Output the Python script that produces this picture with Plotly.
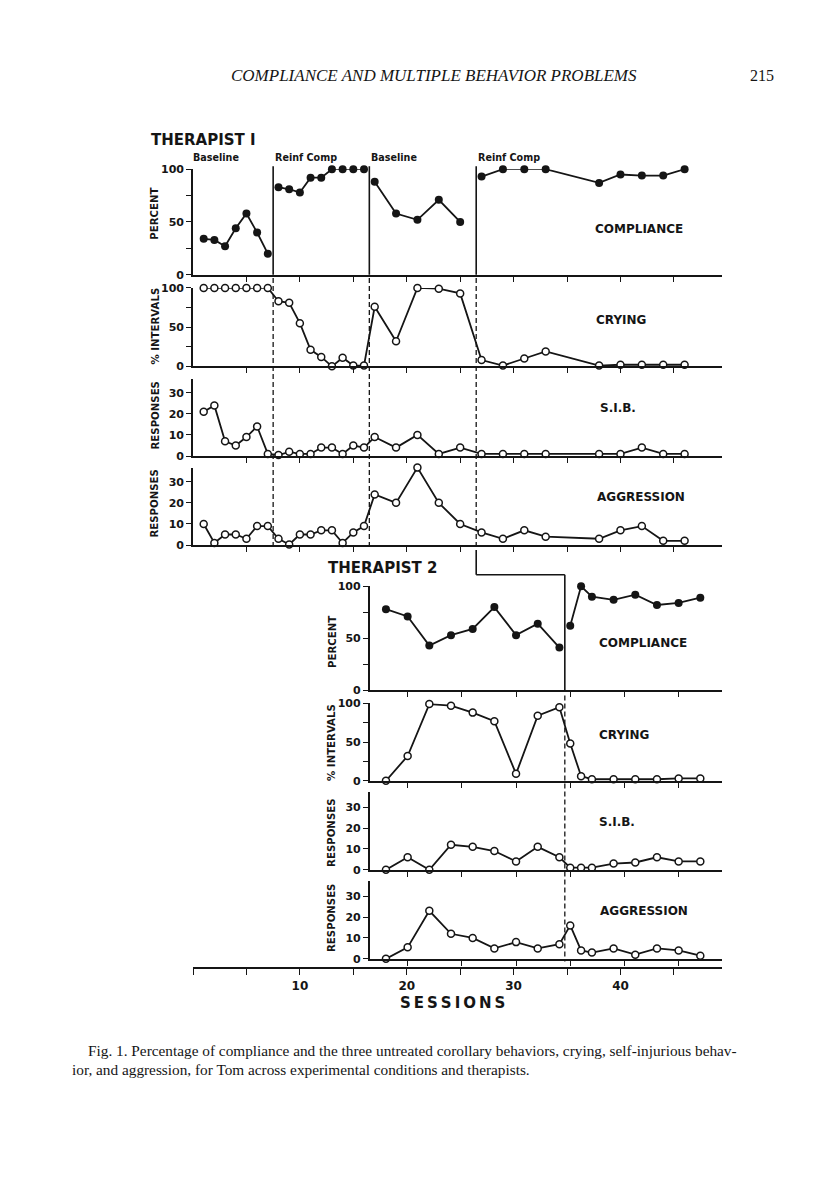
import plotly.graph_objects as go

W, H = 816, 1195

# ---------------- data ----------------
T1_SESSIONS = [1, 2, 3, 4, 5, 6, 7,
               8, 9, 10, 11, 12, 13, 14, 15, 16,
               17, 19, 21, 23, 25,
               27, 29, 31, 33, 38, 40, 42, 44, 46]
T1_COMPLIANCE = [34, 33, 27, 44, 58, 40, 20,
                 83, 81, 78, 92, 92, 100, 100, 100, 100,
                 88, 58, 52, 71, 50,
                 93, 100, 100, 100, 87, 95, 94, 94, 100]
T1_CRYING = [100, 100, 100, 100, 100, 100, 100,
             83, 81, 55, 21, 12, 0, 11, 1, 1,
             76, 32, 100, 99, 93,
             8, 1, 10, 19, 1, 2, 2, 2, 2]
T1_SIB = [21, 24, 7, 5, 9, 14, 1,
          0.5, 2, 1, 1, 4, 4, 1, 5, 4,
          9, 4, 10, 1, 4,
          1, 1, 1, 1, 1, 1, 4, 1, 1]
T1_AGGRESSION = [10, 1, 5, 5, 3, 9, 9,
                 3, 0.3, 5, 5, 7, 7, 1, 6, 9,
                 24, 20, 36.7, 20, 10,
                 6, 3, 7, 4, 3, 7, 9, 2, 2]
T1_PHASE_BREAKS = [7.5, 16.5, 26.5]
T1_PHASE_STARTS = [0, 7.5, 16.5, 26.5]
T1_PHASE_LABELS = ["Baseline", "Reinf Comp", "Baseline", "Reinf Comp"]

T2_SESSIONS = [18, 20, 22, 24, 26, 28, 30, 32, 34,
               35, 36, 37, 39, 41, 43, 45, 47]
T2_COMPLIANCE = [78, 71, 43, 53, 59, 80, 53, 64, 41,
                 62, 100, 90, 87, 92, 82, 84, 89]
T2_CRYING = [0, 32, 99, 97, 88, 77, 9, 84, 95,
             48, 6, 2, 2, 2, 2, 3, 3]
T2_SIB = [0, 6, 0, 12, 11, 9, 4, 11, 6,
          1, 1, 1, 3, 3.5, 6, 4, 4]
T2_AGGRESSION = [0, 5.5, 23, 12, 10, 5, 8, 5, 7,
                 16, 4, 3, 5, 2, 5, 4, 1.5]
T2_PHASE_BREAK = 34.5

SESSION_TICKS = [0, 5, 10, 15, 20, 25, 30, 35, 40, 45]
SESSION_LABELS = ["", "", "10", "", "20", "", "30", "", "40", ""]
PCT_TICKS = [0, 25, 50, 75, 100]
PCT_LABELS = ["0", "", "50", "", "100"]
RESP_TICKS = [0, 10, 20, 30]
RESP_LABELS = ["0", "10", "20", "30"]

# ---------------- helpers ----------------
def px(x):
    return x / W

def py(y):
    return 1 - y / H

T1_RANGE = [0, 49.5]
T1_DOM = [px(193), px(722)]
T2_RANGE = [16.5, 49.0]
T2_DOM = [px(369.7), px(722)]

def to_paper(s, rng, dom):
    return dom[0] + (s - rng[0]) / (rng[1] - rng[0]) * (dom[1] - dom[0])

def split_phases(sess, vals, breaks):
    xs, ys = [], []
    for i, (s, v) in enumerate(zip(sess, vals)):
        if i > 0 and any(sess[i - 1] < b < s for b in breaks):
            xs.append(None)
            ys.append(None)
        xs.append(s)
        ys.append(v)
    return xs, ys

INK = "#151515"
SANS = "DejaVu Sans"
SERIF = "Liberation Serif"

fig = go.Figure()

def filled(x, y, n):
    fig.add_trace(go.Scatter(
        x=x, y=y, xaxis=f"x{n}", yaxis=f"y{n}", mode="lines+markers",
        line=dict(color=INK, width=1.8),
        marker=dict(symbol="circle", size=8, color=INK),
        cliponaxis=False, showlegend=False, hoverinfo="skip", connectgaps=False))

def opened(x, y, n):
    fig.add_trace(go.Scatter(
        x=x, y=y, xaxis=f"x{n}", yaxis=f"y{n}", mode="lines+markers",
        line=dict(color=INK, width=1.8),
        marker=dict(symbol="circle", size=7, color="white",
                    line=dict(color=INK, width=1.5)),
        cliponaxis=False, showlegend=False, hoverinfo="skip"))

cx, cy = split_phases(T1_SESSIONS, T1_COMPLIANCE, T1_PHASE_BREAKS)
filled(cx, cy, 1)
opened(T1_SESSIONS, T1_CRYING, 2)
opened(T1_SESSIONS, T1_SIB, 3)
opened(T1_SESSIONS, T1_AGGRESSION, 4)
cx2, cy2 = split_phases(T2_SESSIONS, T2_COMPLIANCE, [T2_PHASE_BREAK])
filled(cx2, cy2, 5)
opened(T2_SESSIONS, T2_CRYING, 6)
opened(T2_SESSIONS, T2_SIB, 7)
opened(T2_SESSIONS, T2_AGGRESSION, 8)
# invisible trace so the shared sessions axis is drawn
fig.add_trace(go.Scatter(x=T1_RANGE, y=[0, 0], xaxis="x9", yaxis="y9",
                         mode="lines", line=dict(width=0), showlegend=False,
                         hoverinfo="skip"))

tickfont = dict(family=SANS, size=11, color=INK, weight="bold")

def xaxis(dom, rng, anchor, tickvals, labels=None):
    d = dict(domain=dom, range=rng, anchor=anchor, showline=True,
             linecolor=INK, linewidth=1.6, ticks="outside", ticklen=5,
             tickwidth=1.3, tickcolor=INK, tickvals=tickvals,
             showgrid=False, zeroline=False, fixedrange=True)
    if labels is None:
        d["showticklabels"] = False
    else:
        d["ticktext"] = labels
        d["tickfont"] = dict(family=SANS, size=12, color=INK, weight="bold")
    return d

def yaxis(dom, rng, anchor, tickvals, ticktext):
    return dict(domain=dom, range=rng, anchor=anchor, showline=True,
                linecolor=INK, linewidth=1.6, ticks="outside", ticklen=5,
                tickwidth=1.3, tickcolor=INK, tickvals=tickvals,
                ticktext=ticktext, tickfont=tickfont, showgrid=False,
                zeroline=False, fixedrange=True)

T1_XTICKS = SESSION_TICKS[1:]
T2_XTICKS = [t for t in SESSION_TICKS if t >= 20]

y_doms = {
    1: ([py(271.7), py(165)], [0, 100], PCT_TICKS, PCT_LABELS),
    2: ([py(364.3), py(285)], [0, 100], PCT_TICKS, PCT_LABELS),
    3: ([py(455), py(376.7)], [0, 36.7], RESP_TICKS, RESP_LABELS),
    4: ([py(545), py(466.7)], [0, 36.7], RESP_TICKS, RESP_LABELS),
    5: ([py(691.7), py(586.7)], [0, 100], PCT_TICKS, PCT_LABELS),
    6: ([py(783.3), py(705)], [0, 100], PCT_TICKS, PCT_LABELS),
    7: ([py(873.3), py(795)], [0, 37.1], RESP_TICKS, RESP_LABELS),
    8: ([py(963.3), py(885)], [0, 37.1], RESP_TICKS, RESP_LABELS),
}

layout = dict(width=W, height=H, margin=dict(l=0, r=0, t=0, b=0),
              paper_bgcolor="white", plot_bgcolor="rgba(0,0,0,0)",
              showlegend=False)
for n, (dom, rng, tv, tt) in y_doms.items():
    xd, xr, xt = (T1_DOM, T1_RANGE, T1_XTICKS) if n <= 4 else (T2_DOM, T2_RANGE, T2_XTICKS)
    layout[f"xaxis{n}"] = xaxis(xd, xr, f"y{n}", xt)
    layout[f"yaxis{n}"] = yaxis(dom, rng, f"x{n}", tv, tt)

layout["xaxis9"] = xaxis(T1_DOM, T1_RANGE, "y9", SESSION_TICKS, SESSION_LABELS)
layout["xaxis9"]["ticklen"] = 6
layout["yaxis9"] = dict(domain=[py(972), py(971)], range=[0, 1], anchor="x9",
                        visible=False, fixedrange=True)
fig.update_layout(**layout)

# ---------------- phase lines ----------------
shapes = []
line_solid = dict(color=INK, width=1.6)
line_dash = dict(color=INK, width=1.3, dash="5px,3px")
for i, b in enumerate(T1_PHASE_BREAKS):
    shapes.append(dict(type="line", xref="x", yref="paper", x0=b, x1=b,
                       y0=py(271.7), y1=py(162), line=line_solid))
    bottom = 550 if i == len(T1_PHASE_BREAKS) - 1 else 546
    shapes.append(dict(type="line", xref="x", yref="paper", x0=b, x1=b,
                       y0=py(275), y1=py(bottom), line=line_dash))
last = T1_PHASE_BREAKS[-1]
shapes.append(dict(type="line", xref="x", yref="paper", x0=last, x1=last,
                   y0=py(550), y1=py(575), line=line_solid))
shapes.append(dict(type="line", xref="paper", yref="paper",
                   x0=to_paper(last, T1_RANGE, T1_DOM),
                   x1=to_paper(T2_PHASE_BREAK, T2_RANGE, T2_DOM),
                   y0=py(575), y1=py(575), line=line_solid))
shapes.append(dict(type="line", xref="x5", yref="paper", x0=T2_PHASE_BREAK,
                   x1=T2_PHASE_BREAK, y0=py(575), y1=py(691.7), line=line_solid))
shapes.append(dict(type="line", xref="x5", yref="paper", x0=T2_PHASE_BREAK,
                   x1=T2_PHASE_BREAK, y0=py(697), y1=py(966), line=line_dash))
fig.update_layout(shapes=shapes)

# ---------------- text ----------------
ann = []

def text(x, y, s, size=12, anchor="left", angle=0, family=SANS, bold=True,
         italic=False):
    ann.append(dict(x=px(x), y=py(y), xref="paper", yref="paper", text=s,
                    showarrow=False, xanchor=anchor, yanchor="middle",
                    textangle=angle,
                    font=dict(family=family, size=size, color=INK,
                              weight="bold" if bold else "normal",
                              style="italic" if italic else "normal")))

text(434, 70, "COMPLIANCE AND MULTIPLE BEHAVIOR PROBLEMS", 17, "center",
     family=SERIF, bold=False, italic=True)
text(762, 70, "215", 16, "center", family=SERIF, bold=False)

text(149, 135, "THERAPIST I", 15)
text(326, 568, "THERAPIST 2", 15)

for s, lab in zip(T1_PHASE_STARTS, T1_PHASE_LABELS):
    x = to_paper(s, T1_RANGE, T1_DOM) * W
    text(x - 2 if s == 0 else x, 153, lab, 9.6)

# panel names
for (x, y, s) in [(593, 225, "COMPLIANCE"), (594, 317, "CRYING"),
                  (598, 406, "S.I.B."), (595, 496, "AGGRESSION"),
                  (597, 644, "COMPLIANCE"), (597, 737, "CRYING"),
                  (597, 825, "S.I.B."), (598, 915, "AGGRESSION")]:
    text(x, y, s, 12)

# y titles
for (x, y, s) in [(155, 210, "PERCENT"), (155, 324, "% INTERVALS"),
                  (155, 414, "RESPONSES"), (155, 503, "RESPONSES"),
                  (332, 643, "PERCENT"), (332, 745, "% INTERVALS"),
                  (332, 836, "RESPONSES"), (332, 922, "RESPONSES")]:
    text(x, y, s, 10.2, "center", angle=-90)

text(452, 1008, "\u2009".join("SESSIONS"), 15, "center")

text(86, 1056, "Fig. 1. Percentage of compliance and the three untreated corollary "
     "behaviors, crying, self-injurious behav-", 15.3, family=SERIF, bold=False)
text(70, 1075, "ior, and aggression, for Tom across experimental conditions and "
     "therapists.", 15.3, family=SERIF, bold=False)

fig.update_layout(annotations=ann)

fig.write_html("out.html", config={"displayModeBar": False})

# remove the default page margin so figure pixels map 1:1 to the window
with open("out.html", "r", encoding="utf-8") as f:
    html = f.read()
html = html.replace("<body>", '<body style="margin:0;padding:0;overflow:hidden">', 1)
with open("out.html", "w", encoding="utf-8") as f:
    f.write(html)
